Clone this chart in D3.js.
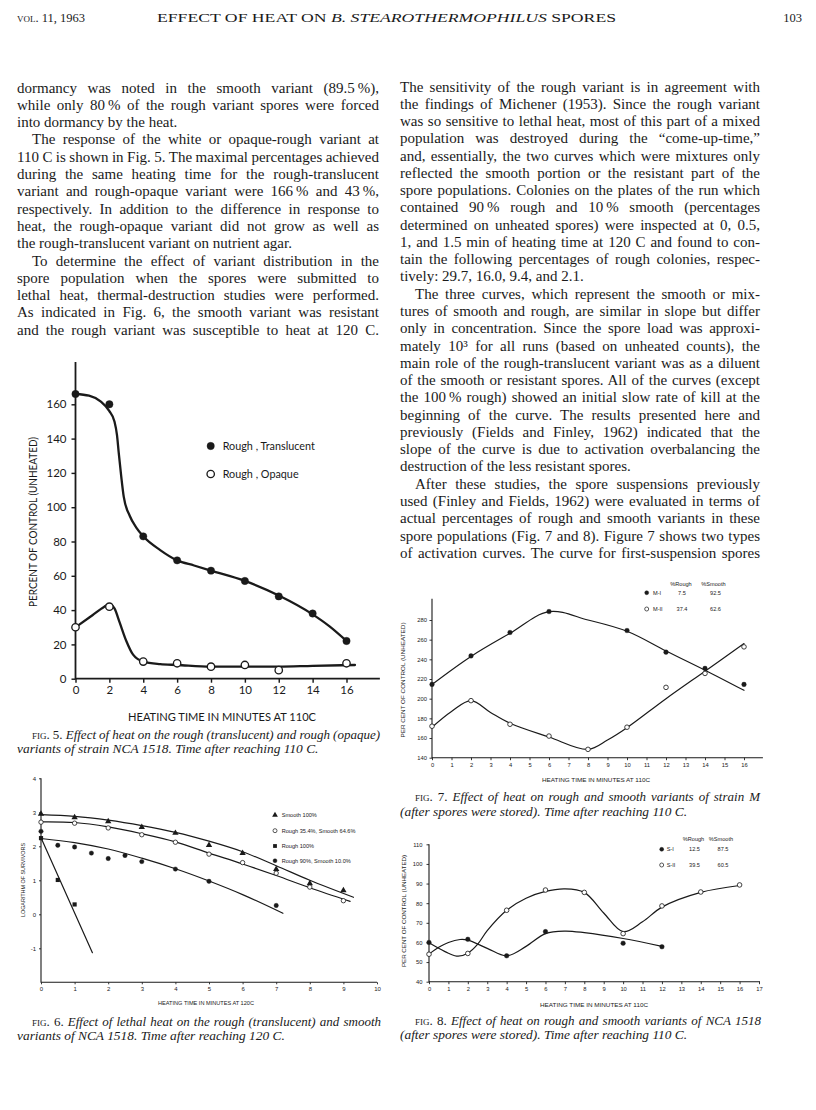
<!DOCTYPE html>
<html>
<head>
<meta charset="utf-8">
<script src="https://cdn.jsdelivr.net/npm/d3@7"></script>
<style>
  body { margin: 0; background: #fff; }
  svg { display: block; }
</style>
</head>
<body>
<svg id="pagina" width="816" height="1110"></svg>
<script>
// ---------- texto de la página ----------
const cabecera = ['vol. 11, 1963', 'EFFECT OF HEAT ON ', 'B. STEAROTHERMOPHILUS', ' SPORES', '103'];

const textoIzq = [
  'dormancy was noted in the smooth variant (89.5\u2009%),',
  'while only 80\u2009% of the rough variant spores were forced',
  'into dormancy by the heat.',
  'The response of the white or opaque-rough variant at',
  '110 C is shown in Fig. 5. The maximal percentages achieved',
  'during the same heating time for the rough-translucent',
  'variant and rough-opaque variant were 166\u2009% and 43\u2009%,',
  'respectively. In addition to the difference in response to',
  'heat, the rough-opaque variant did not grow as well as',
  'the rough-translucent variant on nutrient agar.',
  'To determine the effect of variant distribution in the',
  'spore population when the spores were submitted to',
  'lethal heat, thermal-destruction studies were performed.',
  'As indicated in Fig. 6, the smooth variant was resistant',
  'and the rough variant was susceptible to heat at 120 C.'
];
const sangriaIzq = [3, 10];
const finalIzq = [2, 9];

const textoDer = [
  'The sensitivity of the rough variant is in agreement with',
  'the findings of Michener (1953). Since the rough variant',
  'was so sensitive to lethal heat, most of this part of a mixed',
  'population was destroyed during the \u201ccome-up-time,\u201d',
  'and, essentially, the two curves which were mixtures only',
  'reflected the smooth portion or the resistant part of the',
  'spore populations. Colonies on the plates of the run which',
  'contained 90\u2009% rough and 10\u2009% smooth (percentages',
  'determined on unheated spores) were inspected at 0, 0.5,',
  '1, and 1.5 min of heating time at 120 C and found to con-',
  'tain the following percentages of rough colonies, respec-',
  'tively: 29.7, 16.0, 9.4, and 2.1.',
  'The three curves, which represent the smooth or mix-',
  'tures of smooth and rough, are similar in slope but differ',
  'only in concentration. Since the spore load was approxi-',
  'mately 10\u00b3 for all runs (based on unheated counts), the',
  'main role of the rough-translucent variant was as a diluent',
  'of the smooth or resistant spores. All of the curves (except',
  'the 100\u2009% rough) showed an initial slow rate of kill at the',
  'beginning of the curve. The results presented here and',
  'previously (Fields and Finley, 1962) indicated that the',
  'slope of the curve is due to activation overbalancing the',
  'destruction of the less resistant spores.',
  'After these studies, the spore suspensions previously',
  'used (Finley and Fields, 1962) were evaluated in terms of',
  'actual percentages of rough and smooth variants in these',
  'spore populations (Fig. 7 and 8). Figure 7 shows two types',
  'of activation curves. The curve for first-suspension spores'
];
const sangriaDer = [12, 23];
const finalDer = [11, 22];

const pies = [
  ['fig. 5.', 'Effect of heat on the rough (translucent) and rough (opaque)', 'variants of strain NCA 1518. Time after reaching 110 C.'],
  ['fig. 6.', 'Effect of lethal heat on the rough (translucent) and smooth', 'variants of NCA 1518. Time after reaching 120 C.'],
  ['fig. 7.', 'Effect of heat on rough and smooth variants of strain M', '(after spores were stored). Time after reaching 110 C.'],
  ['fig. 8.', 'Effect of heat on rough and smooth variants of NCA 1518', '(after spores were stored). Time after reaching 110 C.']
];

// ---------- Fig. 5 ----------
const fig5X = [0, 2, 4, 6, 8, 10, 12, 14, 16];
const fig5Translucida = [166, 160, 83, 69, 63, 57, 48, 38, 22];
const fig5OpacaX = [0, 2, 4, 6, 8, 10, 12, 16];
const fig5Opaca = [30, 42, 10, 9, 7, 8, 5, 9];
const fig5CurvaTrans = [[0, 166], [0.8, 165], [1.5, 161.5], [2, 156], [2.3, 150], [2.45, 142], [2.55, 132],
  [2.7, 118], [2.85, 106], [3.2, 95], [3.6, 88], [4, 83], [5, 75], [6, 69], [7, 66], [8, 63], [10, 57],
  [12, 48.5], [14, 37.5], [15, 30.5], [16, 22]];
const fig5CurvaOpaca = [[0, 30], [1, 37], [1.7, 42], [2, 43.5], [2.3, 41], [2.6, 33], [3, 22], [3.4, 14],
  [4, 10], [5, 8.5], [6, 8], [8, 7], [10, 7], [12, 7], [14, 7.5], [16.5, 8]];
const fig5Leyenda = ['Rough , Translucent', 'Rough , Opaque'];

// ---------- Fig. 6 ----------
const fig6SmoothX = [0, 1, 2, 3, 4, 5, 6, 7, 8, 9];
const fig6Smooth = [2.95, 2.85, 2.73, 2.56, 2.39, 2.03, 1.8, 1.33, 0.91, 0.7];
const fig6MezclaX = [0, 1, 2, 3, 4, 5, 6, 7, 8, 9];
const fig6Mezcla = [2.71, 2.68, 2.54, 2.34, 2.12, 1.77, 1.52, 1.21, 0.8, 0.4];
const fig6RoughX = [0, 0.5, 1];
const fig6Rough = [2.24, 1.01, 0.29];
const fig6R90X = [0, 0.5, 1, 1.5, 2, 2.5, 3, 4, 5, 7];
const fig6R90 = [2.44, 2.03, 1.98, 1.8, 1.64, 1.73, 1.55, 1.33, 0.97, 0.26];
const fig6CurvaSmooth = [[0, 2.93], [1, 2.88], [2, 2.77], [3, 2.61], [4, 2.41], [5, 2.15], [6, 1.84], [7, 1.43], [8, 1.0], [9.3, 0.5]];
const fig6CurvaMezcla = [[0, 2.72], [1, 2.7], [2, 2.57], [3, 2.37], [4, 2.13], [5, 1.8], [6, 1.48], [7, 1.14], [8, 0.78], [9.2, 0.38]];
const fig6CurvaRough = [[0, 2.25], [1.53, -1.13]];
const fig6CurvaR90 = [[0, 2.23], [1, 2.11], [2, 1.92], [3, 1.65], [4, 1.34], [5, 0.98], [6, 0.58], [7.2, 0.03]];
const fig6Leyenda = ['Smooth 100%', 'Rough 35.4%, Smooth 64.6%', 'Rough 100%', 'Rough 90%, Smooth 10.0%'];

// ---------- Fig. 7 ----------
const fig7MIX = [0, 2, 4, 6, 10, 12, 14, 16];
const fig7MI = [214.5, 243.5, 267.3, 288.6, 269.3, 247.3, 230.8, 214.5];
const fig7MIIX = [0, 2, 4, 6, 8, 10, 12, 14, 16];
const fig7MII = [172, 198, 174, 162, 148.5, 171, 211.5, 225.7, 252.7];
const fig7CurvaMI = [[0, 214.5], [2, 243], [4, 266.5], [6, 288.5], [8, 280], [10, 268.5], [12, 248.5], [14, 229], [16, 208.5]];
const fig7CurvaMII = [[0, 171], [1, 187], [2, 198], [3, 186], [4, 175], [6, 161], [8, 148.5], [9, 158], [10, 170.5], [12, 200], [14, 228], [16, 256]];
const fig7Nombres = ['M-I', 'M-II'];
const fig7Rough = ['7.5', '37.4'];
const fig7Smooth = ['92.5', '62.6'];

// ---------- Fig. 8 ----------
const fig8SIX = [0, 2, 4, 6, 10, 12];
const fig8SI = [60, 61.6, 53.2, 65.5, 59.6, 57.8];
const fig8SIIX = [0, 2, 4, 6, 8, 10, 12, 14, 16];
const fig8SII = [54, 54.4, 76.4, 86.7, 85.5, 64.5, 78.6, 85.7, 89.3];
const fig8CurvaSI = [[0, 54], [0.5, 57.5], [1, 60], [1.6, 61.5], [2, 61.2], [3, 57], [4, 53.2], [5, 58], [6, 64.5],
  [7, 65.8], [8, 65], [10, 62], [12, 58]];
const fig8CurvaSII = [[0, 60], [0.5, 57], [1, 54.5], [1.5, 53], [2, 54.5], [2.5, 59], [3, 66], [4, 76.4], [5, 82.5],
  [6, 86], [7, 87.3], [8, 85.5], [9, 75], [10, 65.5], [11, 70.5], [12, 78], [14, 85.5], [16, 89]];
const fig8Nombres = ['S-I', 'S-II'];
const fig8Rough = ['12.5', '39.5'];
const fig8Smooth = ['87.5', '60.5'];

// ---------- estilo ----------
const TINTA = '#1a1a1a';
const SERIF = '"Liberation Serif", "DejaVu Serif", serif';
const SANS = 'Lato, "Open Sans", sans-serif';
const DIMINUTA = '"Liberation Sans", "DejaVu Sans", sans-serif';

const svg = d3.select('#pagina');
svg.append('rect').attr('width', 816).attr('height', 1110).attr('fill', '#fff');

// justifica una línea: primero con el espacio entre palabras, y si no alcanza, comprimiendo
function justificar(t, ancho) {
  const largo = t.node().getComputedTextLength();
  const espacios = (t.node().textContent.match(/ /g) || []).length;
  const extra = espacios ? (ancho - largo) / espacios : 0;
  if (espacios && extra >= -1.4) {
    t.attr('word-spacing', extra);
  } else {
    t.attr('textLength', ancho).attr('lengthAdjust', 'spacingAndGlyphs');
  }
}

function columna(lineas, sangrias, finales, x0, x1, y0, paso) {
  const g = svg.append('g')
    .attr('font-family', SERIF).attr('font-size', 15).attr('fill', TINTA);
  lineas.forEach((linea, i) => {
    const dentro = sangrias.includes(i) ? 15 : 0;
    const t = g.append('text').attr('x', x0 + dentro).attr('y', y0 + i * paso).text(linea);
    if (!finales.includes(i)) justificar(t, x1 - x0 - dentro);
  });
}

// cabecera
const cab = svg.append('g').attr('font-family', SERIF).attr('fill', TINTA).attr('font-size', 12.5);
cab.append('text').attr('x', 17).attr('y', 21.5).attr('font-variant', 'small-caps').text(cabecera[0]);
const titulo = cab.append('text').attr('x', 157).attr('y', 21.5);
titulo.append('tspan').text(cabecera[1]);
titulo.append('tspan').attr('font-style', 'italic').text(cabecera[2]);
titulo.append('tspan').text(cabecera[3]);
titulo.attr('textLength', 459).attr('lengthAdjust', 'spacingAndGlyphs');
cab.append('text').attr('x', 802).attr('y', 21.5).attr('text-anchor', 'end').text(cabecera[4]);

columna(textoIzq, sangriaIzq, finalIzq, 17, 379, 92.5, 17.3);
columna(textoDer, sangriaDer, finalDer, 400, 760, 91.5, 17.27);

function pie(p, x0, x1, y) {
  const g = svg.append('g').attr('font-family', SERIF).attr('font-size', 13).attr('fill', TINTA);
  const t = g.append('text').attr('x', x0 + 15).attr('y', y);
  t.append('tspan').attr('font-variant', 'small-caps').text(p[0] + ' ');
  t.append('tspan').attr('font-style', 'italic').text(p[1]);
  justificar(t, x1 - x0 - 15);
  g.append('text').attr('x', x0).attr('y', y + 14.5).attr('font-style', 'italic').attr('font-size', 13.4).text(p[2]);
}
pie(pies[0], 17, 380, 738.5);
pie(pies[1], 17, 381, 1025.5);
pie(pies[2], 400, 760, 801);
pie(pies[3], 400, 761, 1024.5);

// ---------- paneles ----------
function marca(g, tipo, cx, cy, r) {
  if (tipo === 'lleno' || tipo === 'hueco') {
    g.append('circle').attr('cx', cx).attr('cy', cy).attr('r', r)
      .attr('fill', tipo === 'lleno' ? TINTA : '#fff')
      .attr('stroke', TINTA).attr('stroke-width', tipo === 'lleno' ? 0.4 : r * 0.36);
  } else {
    const forma = tipo === 'triangulo' ? d3.symbolTriangle : d3.symbolSquare;
    g.append('path').attr('transform', `translate(${cx},${cy})`)
      .attr('d', d3.symbol().type(forma).size(r * r * 3.6)()).attr('fill', TINTA);
  }
}

function panel(p) {
  const g = svg.append('g');
  const { x, y } = p;
  const x0 = x(x.domain()[0]);
  const yBase = y(y.domain()[0]);

  g.append('path')
    .attr('d', `M${x0},${y(p.yTope)}V${yBase}H${x(p.xTope)}`)
    .attr('fill', 'none').attr('stroke', TINTA).attr('stroke-width', p.eje);

  const estilo = (s) => {
    s.select('.domain').remove();
    s.selectAll('line').attr('stroke', TINTA).attr('stroke-width', p.eje * 0.8);
    s.selectAll('text').attr('fill', TINTA).attr('font-family', p.fuente).attr('font-size', p.tam);
  };
  g.append('g').attr('transform', `translate(0,${yBase})`)
    .call(d3.axisBottom(x).tickValues(p.xTicks).tickSize(p.tick).tickPadding(p.padX).tickFormat(d3.format('d')))
    .call(estilo);
  g.append('g').attr('transform', `translate(${x0},0)`)
    .call(d3.axisLeft(y).tickValues(p.yTicks).tickSize(p.tick).tickPadding(p.padY).tickFormat((d) => String(d)))
    .call(estilo);

  p.curvas.forEach((c) => {
    g.append('path').datum(c.datos)
      .attr('d', d3.line().x((d) => x(d[0])).y((d) => y(d[1])).curve(c.curva))
      .attr('fill', 'none').attr('stroke', TINTA).attr('stroke-width', p.trazo)
      .attr('stroke-linecap', 'round').attr('stroke-linejoin', 'round');
  });
  p.series.forEach((s) => {
    s.xs.forEach((vx, i) => marca(g, s.tipo, x(vx), y(s.ys[i]), p.radio));
  });

  const et = g.append('g').attr('font-family', p.fuente).attr('fill', TINTA).attr('font-size', p.tamEtiqueta);
  et.append('text').attr('x', p.etX[0]).attr('y', p.etX[1]).attr('text-anchor', 'middle')
    .attr('textLength', p.etX[2]).attr('lengthAdjust', 'spacingAndGlyphs').text(p.tituloX);
  et.append('text').attr('transform', `translate(${p.etY[0]},${p.etY[1]}) rotate(-90)`)
    .attr('text-anchor', 'middle').attr('textLength', p.etY[2]).attr('lengthAdjust', 'spacingAndGlyphs')
    .text(p.tituloY);
  return g;
}

const catmull = d3.curveCatmullRom.alpha(0.5);

// Fig. 5
const g5 = panel({
  x: d3.scaleLinear().domain([0, 16]).range([75.5, 346.5]),
  y: d3.scaleLinear().domain([0, 160]).range([678.7, 404.3]),
  xTope: 17.97, yTope: 184.7,
  xTicks: d3.range(0, 17, 2), yTicks: d3.range(0, 161, 20),
  tick: 4, padX: 3.5, padY: 5, fuente: SANS, tam: 11.5,
  eje: 1.8, trazo: 2.3, radio: 3.7,
  curvas: [
    { datos: fig5CurvaTrans, curva: d3.curveMonotoneX },
    { datos: fig5CurvaOpaca, curva: d3.curveMonotoneX }
  ],
  series: [
    { xs: fig5X, ys: fig5Translucida, tipo: 'lleno' },
    { xs: fig5OpacaX, ys: fig5Opaca, tipo: 'hueco' }
  ],
  tituloX: 'HEATING TIME IN MINUTES AT 110C', etX: [222, 720.5, 188],
  tituloY: 'PERCENT OF CONTROL (UNHEATED)', etY: [37, 522, 170], tamEtiqueta: 11
});
['lleno', 'hueco'].forEach((tipo, i) => {
  marca(g5, tipo, 210.7, 446 + i * 28, 3.7);
  g5.append('text').attr('x', 222.7).attr('y', 450 + i * 28).attr('font-family', SANS)
    .attr('font-size', 10.8).attr('fill', TINTA).text(fig5Leyenda[i]);
});

// Fig. 6
const g6 = panel({
  x: d3.scaleLinear().domain([0, 10]).range([41, 377]),
  y: d3.scaleLinear().domain([-2, 4]).range([982.3, 778.3]),
  xTope: 10, yTope: 4,
  xTicks: d3.range(0, 11), yTicks: d3.range(-1, 5),
  tick: 2, padX: 2, padY: 3, fuente: DIMINUTA, tam: 6,
  eje: 1.1, trazo: 1.2, radio: 2.2,
  curvas: [
    { datos: fig6CurvaSmooth, curva: catmull },
    { datos: fig6CurvaMezcla, curva: catmull },
    { datos: fig6CurvaRough, curva: d3.curveLinear },
    { datos: fig6CurvaR90, curva: catmull }
  ],
  series: [
    { xs: fig6SmoothX, ys: fig6Smooth, tipo: 'triangulo' },
    { xs: fig6MezclaX, ys: fig6Mezcla, tipo: 'hueco' },
    { xs: fig6RoughX, ys: fig6Rough, tipo: 'cuadrado' },
    { xs: fig6R90X, ys: fig6R90, tipo: 'lleno' }
  ],
  tituloX: 'HEATING TIME IN MINUTES AT 120C', etX: [206, 1005, 96],
  tituloY: 'LOGARITHM OF SURVIVORS', etY: [25, 880, 74], tamEtiqueta: 5.6
});
['triangulo', 'hueco', 'cuadrado', 'lleno'].forEach((tipo, i) => {
  const yy = [815, 830.7, 846, 860.7][i];
  marca(g6, tipo, 275, yy, 2);
  g6.append('text').attr('x', 281.7).attr('y', yy + 2).attr('font-family', DIMINUTA)
    .attr('font-size', 5.6).attr('fill', TINTA).text(fig6Leyenda[i]);
});

// Fig. 7 y Fig. 8 comparten el formato de la tabla de leyenda
function tablaLeyenda(g, x, yCab, filas, nombres, rough, smooth) {
  const t = g.append('g').attr('font-family', DIMINUTA).attr('font-size', 5.6).attr('fill', TINTA);
  t.append('text').attr('x', x.rough).attr('y', yCab + 2).attr('text-anchor', 'middle').text('%Rough');
  t.append('text').attr('x', x.smooth).attr('y', yCab + 2).attr('text-anchor', 'middle').text('%Smooth');
  ['lleno', 'hueco'].forEach((tipo, i) => {
    marca(g, tipo, x.marca, filas[i], 2);
    t.append('text').attr('x', x.nombre).attr('y', filas[i] + 2).text(nombres[i]);
    t.append('text').attr('x', x.rough + 1).attr('y', filas[i] + 2).attr('text-anchor', 'middle').text(rough[i]);
    t.append('text').attr('x', x.smooth + 2).attr('y', filas[i] + 2).attr('text-anchor', 'middle').text(smooth[i]);
  });
}

const g7 = panel({
  x: d3.scaleLinear().domain([0, 16]).range([432, 744]),
  y: d3.scaleLinear().domain([140, 280]).range([757.7, 620]),
  xTope: 16.97, yTope: 301.7,
  xTicks: d3.range(0, 17), yTicks: d3.range(140, 281, 20),
  tick: 2.5, padX: 2.5, padY: 2.5, fuente: DIMINUTA, tam: 5.8,
  eje: 1.1, trazo: 1.2, radio: 2.3,
  curvas: [
    { datos: fig7CurvaMI, curva: catmull },
    { datos: fig7CurvaMII, curva: catmull }
  ],
  series: [
    { xs: fig7MIX, ys: fig7MI, tipo: 'lleno' },
    { xs: fig7MIIX, ys: fig7MII, tipo: 'hueco' }
  ],
  tituloX: 'HEATING TIME IN MINUTES AT 110C', etX: [596, 782, 108],
  tituloY: 'PER CENT OF CONTROL (UNHEATED)', etY: [405, 680, 115], tamEtiqueta: 5.6
});
tablaLeyenda(g7, { marca: 646.7, nombre: 653, rough: 681, smooth: 713.5 }, 584, [592.7, 609],
  fig7Nombres, fig7Rough, fig7Smooth);

const g8 = panel({
  x: d3.scaleLinear().domain([0, 17]).range([429, 759]),
  y: d3.scaleLinear().domain([40, 110]).range([981.7, 844.3]),
  xTope: 17.05, yTope: 110,
  xTicks: d3.range(0, 18), yTicks: d3.range(40, 111, 10),
  tick: 2.5, padX: 3, padY: 4, fuente: DIMINUTA, tam: 5.8,
  eje: 1.1, trazo: 1.2, radio: 2.3,
  curvas: [
    { datos: fig8CurvaSI, curva: catmull },
    { datos: fig8CurvaSII, curva: catmull }
  ],
  series: [
    { xs: fig8SIX, ys: fig8SI, tipo: 'lleno' },
    { xs: fig8SIIX, ys: fig8SII, tipo: 'hueco' }
  ],
  tituloX: 'HEATING TIME IN MINUTES AT 110C', etX: [594, 1007, 108],
  tituloY: 'PER CENT OF CONTROL (UNHEATED)', etY: [406, 911, 112], tamEtiqueta: 5.6
});
tablaLeyenda(g8, { marca: 661.7, nombre: 666.7, rough: 693.5, smooth: 721 }, 839, [849.3, 865],
  fig8Nombres, fig8Rough, fig8Smooth);
</script>
</body>
</html>
